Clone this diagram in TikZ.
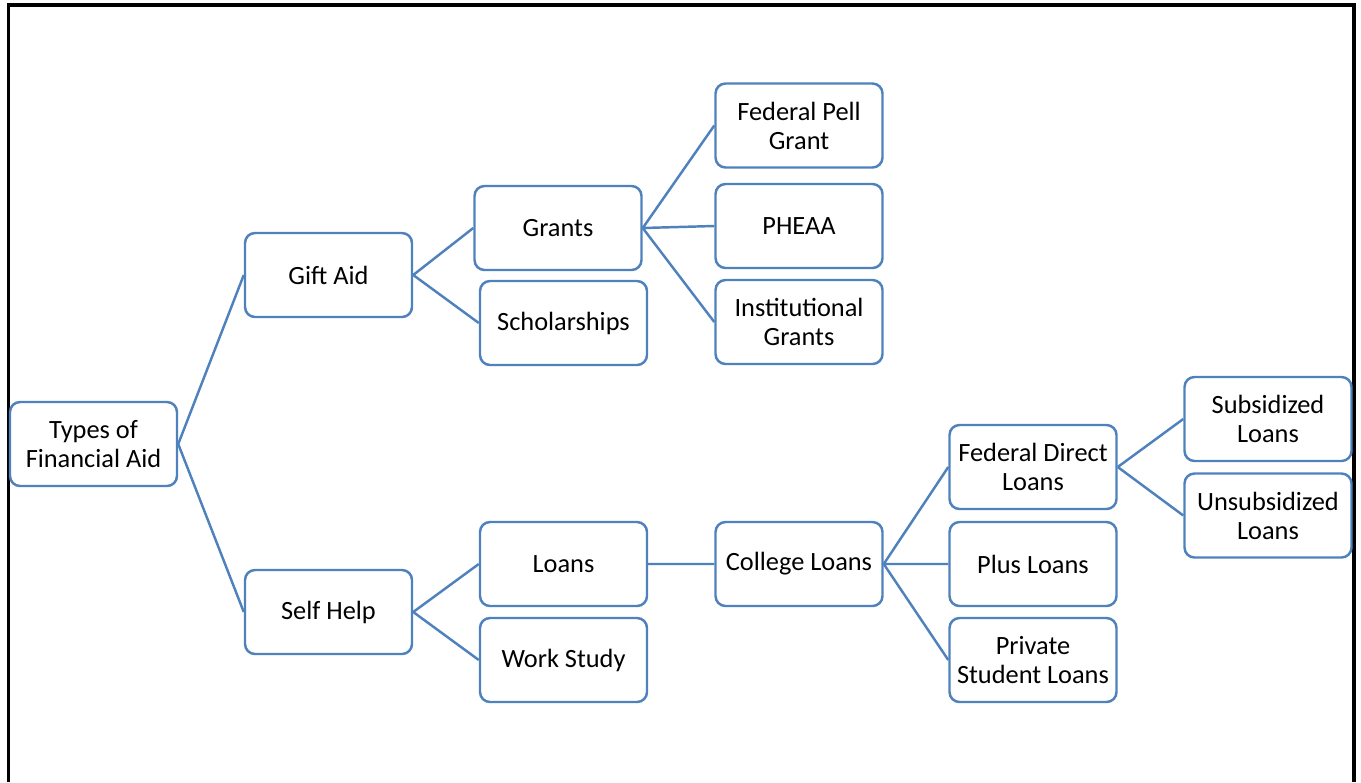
\documentclass[tikz,border=0pt]{standalone}
\usepackage{fontspec}
\setmainfont{Carlito}
\usepackage{tikz}
\usetikzlibrary{positioning}

\definecolor{officeblue}{RGB}{79,129,189}

\begin{document}
\begin{tikzpicture}[semithick]
\tikzstyle{aid}=[draw=officeblue,line width=1.4pt,rounded corners=0.2cm,
  minimum width=3.34cm,minimum height=1.68cm,align=center,
  font=\fontsize{15}{16.5}\selectfont]
\tikzstyle{link}=[draw=officeblue,line width=1.4pt]
\useasboundingbox (0,0) rectangle (27.22,-15.64);
\draw[line width=1.8pt] (0.17,-15.64) -- (0.17,-0.1) -- (27.08,-0.1) -- (27.08,-15.64);

\node[aid] (T) at (1.87,-8.88) {Types of\\Financial Aid};
\node[aid] (G) at (6.57,-5.50) {Gift Aid};
\node[aid] (S) at (6.57,-12.24) {Self Help};
\node[aid] (GR) at (11.16,-4.56) {Grants};
\node[aid] (SC) at (11.27,-6.46) {Scholarships};
\node[aid] (L) at (11.27,-11.28) {Loans};
\node[aid] (W) at (11.27,-13.20) {Work Study};
\node[aid] (P) at (15.98,-2.51) {Federal Pell\\Grant};
\node[aid] (PH) at (15.98,-4.52) {PHEAA};
\node[aid] (I) at (15.98,-6.44) {Institutional\\Grants};
\node[aid] (C) at (15.98,-11.28) {College Loans};
\node[aid] (D) at (20.66,-9.34) {Federal Direct\\Loans};
\node[aid] (PL) at (20.66,-11.28) {Plus Loans};
\node[aid] (PR) at (20.66,-13.20) {Private\\Student Loans};
\node[aid] (SU) at (25.36,-8.38) {Subsidized\\Loans};
\node[aid] (U) at (25.36,-10.31) {Unsubsidized\\Loans};

\path[link] (T.east) -- (G.west)  (T.east) -- (S.west)
  (G.east) -- (GR.west)  (G.east) -- (SC.west)
  (GR.east) -- (P.west)  (GR.east) -- (PH.west)  (GR.east) -- (I.west)
  (S.east) -- (L.west)  (S.east) -- (W.west)
  (L.east) -- (C.west)
  (C.east) -- (D.west)  (C.east) -- (PL.west)  (C.east) -- (PR.west)
  (D.east) -- (SU.west)  (D.east) -- (U.west);
\end{tikzpicture}
\end{document}
